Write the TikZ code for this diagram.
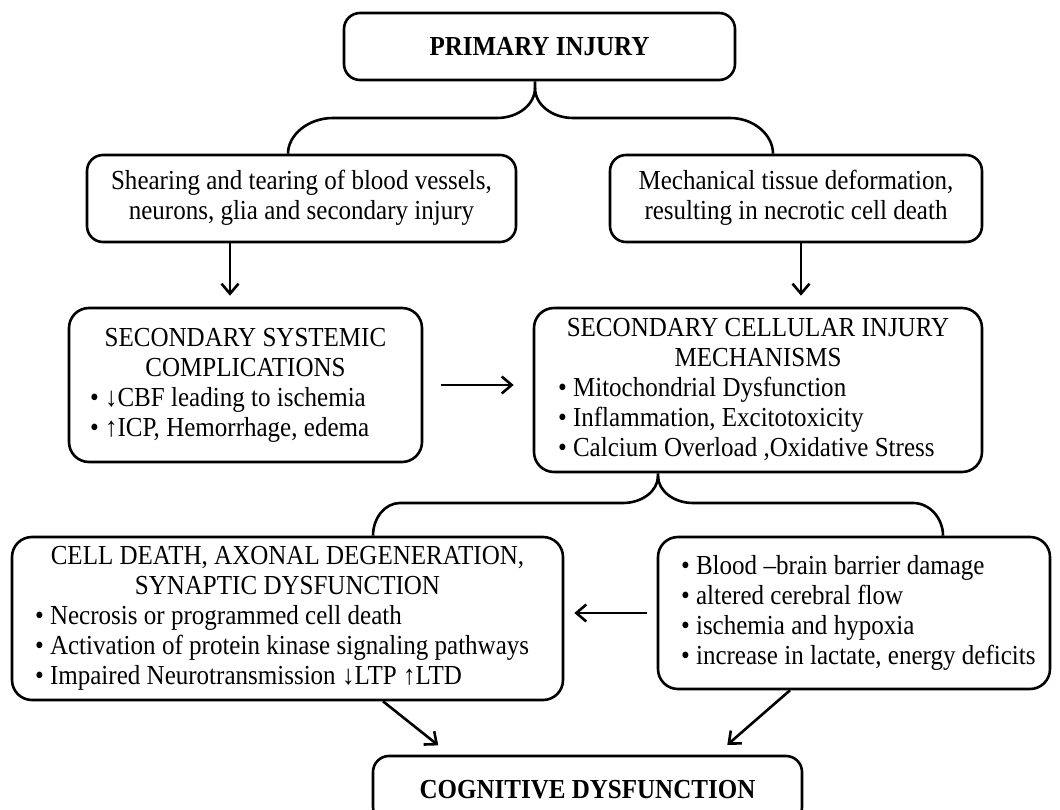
\documentclass[tikz,border=0pt]{standalone}
\usepackage{fontspec}
\setmainfont{Liberation Serif}[FakeStretch=0.91]
\usetikzlibrary{arrows.meta,calc}
\newcommand{\hd}[1]{\makebox[\hsize][c]{\spaceskip=6.3pt\relax\strut #1}}
\newcommand{\bl}[1]{\makebox[\hsize][l]{\spaceskip=6.3pt\relax\strut\textbullet\ #1}}
\begin{document}
\begin{tikzpicture}[x=1pt,y=-1pt,
  ln/.style={line width=2.6pt},
  box/.style={draw, ln, rounded corners=16pt, inner sep=0pt,
    font={\fontsize{27.5}{30}\selectfont}},
  bigbox/.style={box, rounded corners=20pt, align=left},
  ctbox/.style={box, align=center},
  arr/.style={ln, -{Straight Barb[length=10pt,width=17pt]}}
]
\clip (0,0) rectangle (1060,810);
\fill[white] (0,0) rectangle (1060,810);

\node[box, minimum width=391pt, minimum height=67pt] (primary) at (539.5,46.5)
  {\textbf{PRIMARY INJURY}};
\node[ctbox, minimum width=429pt, minimum height=87pt] (shear) at (301.5,198.5)
  {\strut Shearing and tearing of blood vessels,\\\strut neurons, glia and secondary injury};
\node[ctbox, minimum width=372pt, minimum height=87pt] (mech) at (796,198.5)
  {\strut Mechanical tissue deformation,\\\strut resulting in necrotic cell death};
\node[bigbox, minimum width=353pt, minimum height=154pt, text width=311pt] (sys) at (245.5,385)
  {\hd{SECONDARY SYSTEMIC}\\\hd{COMPLICATIONS}\\\bl{↓CBF leading to ischemia}\\\bl{↑ICP, Hemorrhage, edema}};
\node[bigbox, minimum width=448pt, minimum height=164pt, text width=400pt] (cell) at (758,390)
  {\hd{SECONDARY CELLULAR INJURY}\\\hd{MECHANISMS}\\\bl{Mitochondrial Dysfunction}\\\bl{Inflammation, Excitotoxicity}\\\bl{Calcium Overload ,Oxidative Stress}};
\node[bigbox, minimum width=551pt, minimum height=163pt, text width=505pt] (death) at (287.5,618.5)
  {\hd{CELL DEATH, AXONAL DEGENERATION,}\\\hd{SYNAPTIC DYSFUNCTION}\\\bl{Necrosis or programmed cell death}\\\bl{Activation of protein kinase signaling pathways}\\\bl{Impaired Neurotransmission ↓LTP ↑LTD}};
\node[bigbox, minimum width=392pt, minimum height=152pt, text width=346pt] (bbb) at (854,613)
  {\bl{Blood –brain barrier damage}\\\bl{altered cerebral flow}\\\bl{ischemia and hypoxia}\\\bl{increase in lactate, energy deficits}};
\node[box, minimum width=429pt, minimum height=67pt] (cog) at (587.5,789.5)
  {\textbf{COGNITIVE DYSFUNCTION}};

% brace from primary injury
\coordinate (s1) at (535,88);
\draw[ln] (535,0 |- primary.south) -- (s1)
  .. controls (535,104.6) and (518,118) .. (497,118) -- (333,118)
  .. controls (308,118) and (288,135) .. (288,0 |- shear.north);
\draw[ln] (s1)
  .. controls (535,104.6) and (552,118) .. (573,118) -- (730,118)
  .. controls (754,118) and (773,135) .. (773,0 |- mech.north);

% brace from secondary cellular injury
\coordinate (s2) at (658,476);
\draw[ln] (658,0 |- cell.south) -- (s2)
  .. controls (658,491) and (642,503) .. (623,503) -- (400,503)
  .. controls (385,503) and (373,518) .. (373,0 |- death.north);
\draw[ln] (s2)
  .. controls (658,491) and (674,503) .. (693,503) -- (913,503)
  .. controls (929.5,503) and (943,518) .. (943,0 |- bbb.north);

% arrows
\coordinate (x1) at (230,0);
\coordinate (x2) at (801,0);
\coordinate (p1) at (383,0);
\coordinate (p2) at (450,0);
\coordinate (p3) at (790,0);
\coordinate (p4) at (716,0);
\draw[arr, shorten >=11pt] (x1 |- shear.south) -- (x1 |- sys.north);
\draw[arr, shorten >=11pt] (x2 |- mech.south) -- (x2 |- cell.north);
\draw[arr, shorten <=18pt, shorten >=19pt] (sys.east) -- (cell.west |- sys.east);
\draw[arr, shorten <=10pt, shorten >=10pt] (bbb.west) -- (death.east |- bbb.west);
\draw[arr, shorten >=15pt] (p1 |- death.south) -- (p2 |- cog.north);
\draw[arr, shorten >=15pt] (p3 |- bbb.south) -- (p4 |- cog.north);
\end{tikzpicture}
\end{document}
